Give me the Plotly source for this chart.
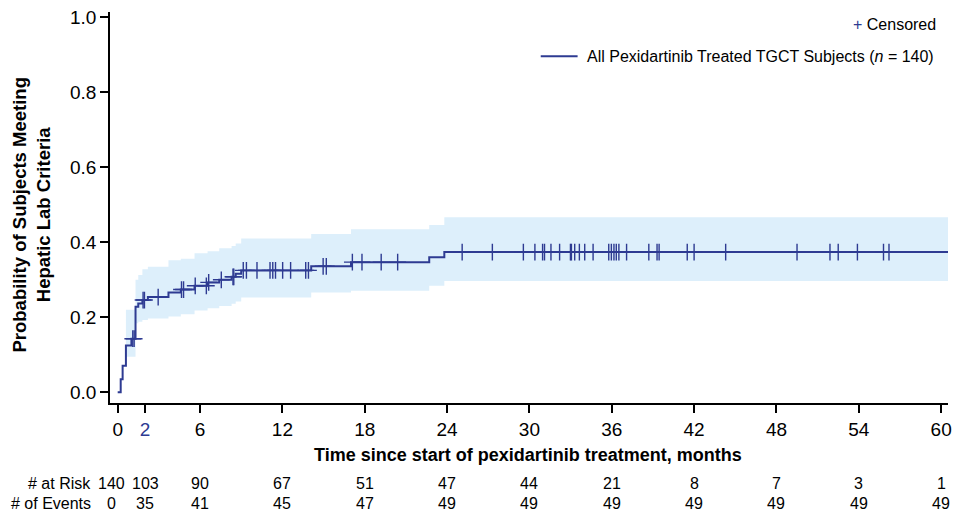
import numpy as np
import plotly.graph_objects as go

# ---------------- data ----------------
step_time = [0, 0.22, 0.36, 0.6, 1.0, 1.3, 1.5, 1.8, 2.2, 3.7, 4.6, 5.6, 6.55, 7.4,
             8.3, 8.6, 9.0, 14.1, 17.0, 22.7, 23.8]
step_prob = [0, 0.035, 0.071, 0.125, 0.143, 0.228, 0.237, 0.246, 0.254, 0.266, 0.274,
             0.284, 0.293, 0.300, 0.308, 0.316, 0.325, 0.336, 0.347, 0.360, 0.374]
last_followup = 60.5

ci_time = [0.6, 1.3, 1.5, 1.8, 2.2, 3.7, 4.6, 5.6, 6.55, 7.4, 8.3, 8.6, 9.0,
           14.1, 17.0, 22.7, 23.8]
ci_lower = [0.095, 0.184, 0.188, 0.193, 0.197, 0.202, 0.208, 0.218, 0.224, 0.230,
            0.236, 0.242, 0.253, 0.266, 0.271, 0.284, 0.297]
ci_upper = [0.220, 0.300, 0.313, 0.328, 0.335, 0.352, 0.356, 0.371, 0.376, 0.384,
            0.390, 0.397, 0.410, 0.422, 0.435, 0.446, 0.467]

censor_time = [1.1, 1.2, 1.85, 1.95, 2.95, 4.65, 4.8, 5.65, 6.46, 6.63, 7.55, 8.4,
               8.46, 9.15, 9.38, 10.15, 11.1, 11.3, 11.5, 12.02, 12.6, 13.7, 13.9,
               14.97, 15.2, 17.1, 17.8, 19.2, 20.4, 25.1, 27.3, 29.56, 30.4, 30.96,
               31.1, 31.57, 32.2, 32.99, 33.06, 33.3, 33.64, 34.03, 34.64, 35.78,
               35.97, 36.16, 36.33, 36.52, 37.08, 38.7, 39.3, 39.45, 41.5, 42.0,
               44.3, 49.5, 51.9, 52.5, 53.9, 55.8, 56.2]

risk_times = [0, 2, 6, 12, 18, 24, 30, 36, 42, 48, 54, 60]
at_risk = [140, 103, 90, 67, 51, 47, 44, 21, 8, 7, 3, 1]
n_events = [0, 35, 41, 45, 47, 49, 49, 49, 49, 49, 49, 49]

x_ticks = [0, 2, 6, 12, 18, 24, 30, 36, 42, 48, 54, 60]
y_ticks = [0.0, 0.2, 0.4, 0.6, 0.8, 1.0]

# ---------------- styling ----------------
NAVY = "#2E3B92"
BAND = "#DDEFFB"
FONT = "Liberation Sans, Arial, Helvetica, sans-serif"

curve_x = step_time + [last_followup]
curve_y = step_prob + [step_prob[-1]]
band_x = ci_time + [last_followup]
band_lo = ci_lower + [ci_lower[-1]]
band_hi = ci_upper + [ci_upper[-1]]

idx = np.searchsorted(np.array(step_time), np.array(censor_time), side="right") - 1
censor_prob = [step_prob[i] for i in idx]

fig = go.Figure()
fig.add_trace(go.Scatter(x=band_x, y=band_lo, mode="lines", line=dict(width=0, shape="hv"),
                         hoverinfo="skip", showlegend=False))
fig.add_trace(go.Scatter(x=band_x, y=band_hi, mode="lines", line=dict(width=0, shape="hv"),
                         fill="tonexty", fillcolor=BAND, hoverinfo="skip", showlegend=False))
fig.add_trace(go.Scatter(x=curve_x, y=curve_y, mode="lines",
                         line=dict(color=NAVY, width=2, shape="hv"), showlegend=False))
fig.add_trace(go.Scatter(x=censor_time, y=censor_prob, mode="markers",
                         marker=dict(symbol="cross-thin", size=12,
                                     line=dict(color=NAVY, width=1.4)),
                         showlegend=False))

tick_text = [f'<span style="color:{NAVY}">{t}</span>' if t == 2 else str(t) for t in x_ticks]

fig.update_layout(
    width=957, height=514,
    margin=dict(l=110, r=5, t=12, b=111),
    paper_bgcolor="white", plot_bgcolor="white",
    font=dict(family=FONT, color="black", size=16),
    showlegend=False,
    xaxis=dict(range=[-0.56, 60.5], tickvals=x_ticks, ticktext=tick_text,
               showline=True, linecolor="black", linewidth=1.5,
               ticks="outside", ticklen=8, tickwidth=1.5, tickcolor="black",
               showgrid=False, zeroline=False, tickfont=dict(size=19)),
    yaxis=dict(range=[-0.0285, 1.014], tickvals=y_ticks, tickformat=".1f",
               showline=True, linecolor="black", linewidth=1.5,
               ticks="outside", ticklen=8, tickwidth=1.5, tickcolor="black",
               showgrid=False, zeroline=False, tickfont=dict(size=19)),
)

ann = []
ann.append(dict(text="<b>Time since start of pexidartinib treatment, months</b>",
                xref="paper", yref="paper", x=0.499, y=-0.133, xanchor="center",
                yanchor="middle", showarrow=False, font=dict(size=18)))
ann.append(dict(text="<b>Probability of Subjects Meeting<br>Hepatic Lab Criteria</b>",
                xref="paper", yref="paper", x=-0.094, y=0.48, xanchor="center",
                yanchor="middle", textangle=-90, showarrow=False, font=dict(size=18.5)))
# risk table
ann.append(dict(text="# at Risk", xref="paper", yref="paper", x=-0.02, y=-0.207,
                xanchor="right", yanchor="middle", showarrow=False, font=dict(size=16)))
ann.append(dict(text="# of Events", xref="paper", yref="paper", x=-0.02, y=-0.258,
                xanchor="right", yanchor="middle", showarrow=False, font=dict(size=16)))
for t, r, e in zip(risk_times, at_risk, n_events):
    shift = -6 if t == 0 else 0
    ann.append(dict(text=str(r), xref="x", yref="paper", x=t, y=-0.207, xanchor="center",
                    xshift=shift, yanchor="middle", showarrow=False, font=dict(size=16)))
    ann.append(dict(text=str(e), xref="x", yref="paper", x=t, y=-0.258, xanchor="center",
                    xshift=shift, yanchor="middle", showarrow=False, font=dict(size=16)))
# legend
ann.append(dict(text=f'<span style="color:{NAVY}">+</span> Censored', xref="paper",
                yref="paper", x=0.988, y=0.969, xanchor="right", yanchor="middle",
                showarrow=False, font=dict(size=16)))
ann.append(dict(text="All Pexidartinib Treated TGCT Subjects (<i>n</i> = 140)",
                xref="paper", yref="paper", x=0.986, y=0.887, xanchor="right",
                yanchor="middle", showarrow=False, font=dict(size=16)))
fig.update_layout(annotations=ann)
fig.add_shape(type="line", xref="paper", yref="paper", x0=0.514, x1=0.558,
              y0=0.887, y1=0.887, line=dict(color=NAVY, width=2))

fig.write_html("out.html", config={"displayModeBar": False},
               post_script="document.body.style.margin='0px';document.body.style.padding='0px';")
